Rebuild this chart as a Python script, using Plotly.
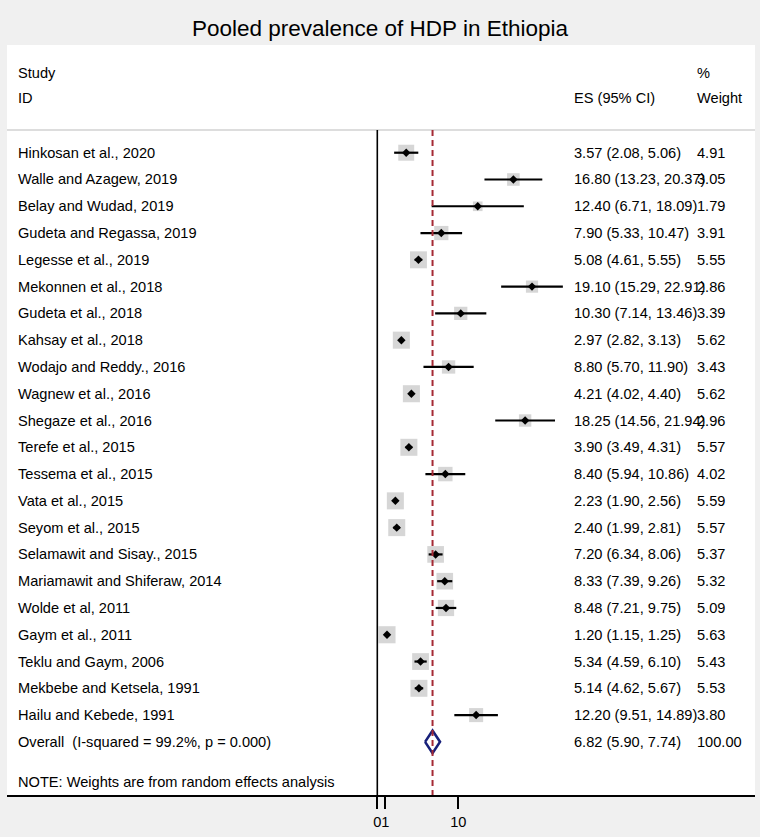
import plotly.graph_objects as go

studies = ["Hinkosan et al., 2020", "Walle and Azagew, 2019", "Belay and Wudad, 2019",
           "Gudeta and Regassa, 2019", "Legesse et al., 2019", "Mekonnen et al., 2018",
           "Gudeta et al., 2018", "Kahsay et al., 2018", "Wodajo and Reddy., 2016",
           "Wagnew et al., 2016", "Shegaze et al., 2016", "Terefe et al., 2015",
           "Tessema et al., 2015", "Vata et al., 2015", "Seyom et al., 2015",
           "Selamawit and Sisay., 2015", "Mariamawit and Shiferaw, 2014", "Wolde et al, 2011",
           "Gaym et al., 2011", "Teklu and Gaym, 2006", "Mekbebe and Ketsela, 1991",
           "Hailu and Kebede, 1991"]
es = [3.57, 16.80, 12.40, 7.90, 5.08, 19.10, 10.30, 2.97, 8.80, 4.21, 18.25, 3.90,
      8.40, 2.23, 2.40, 7.20, 8.33, 8.48, 1.20, 5.34, 5.14, 12.20]
ci_low = [2.08, 13.23, 6.71, 5.33, 4.61, 15.29, 7.14, 2.82, 5.70, 4.02, 14.56, 3.49,
          5.94, 1.90, 1.99, 6.34, 7.39, 7.21, 1.15, 4.59, 4.62, 9.51]
ci_high = [5.06, 20.37, 18.09, 10.47, 5.55, 22.91, 13.46, 3.13, 11.90, 4.40, 21.94, 4.31,
           10.86, 2.56, 2.81, 8.06, 9.26, 9.75, 1.25, 6.10, 5.67, 14.89]
weights = [4.91, 3.05, 1.79, 3.91, 5.55, 2.86, 3.39, 5.62, 3.43, 5.62, 2.96, 5.57,
           4.02, 5.59, 5.57, 5.37, 5.32, 5.09, 5.63, 5.43, 5.53, 3.80]

overall_label = "Overall  (I-squared = 99.2%, p = 0.000)"
overall_es, overall_lo, overall_hi, overall_w = 6.82, 5.90, 7.74, 100.00
note = "NOTE: Weights are from random effects analysis"
title = "Pooled prevalence of HDP in Ethiopia"
tick_vals = [0, 1, 10]
tick_text = ["0", "1", "10"]

FONT = "Liberation Sans, Arial, Helvetica, sans-serif"
FS = 14.6
rows = list(range(len(studies)))
overall_row = len(studies)
note_row = overall_row + 1.5

fig = go.Figure()

# weight boxes
fig.add_trace(go.Scatter(
    x=es, y=rows, mode="markers",
    marker=dict(symbol="square", color="#c4c4c4",
                size=[7.2 * w ** 0.5 for w in weights], line=dict(width=0)),
    hoverinfo="skip", showlegend=False))

# CI lines
cx, cy = [], []
for lo, hi, r in zip(ci_low, ci_high, rows):
    cx += [lo, hi, None]
    cy += [r, r, None]
fig.add_trace(go.Scatter(x=cx, y=cy, mode="lines",
                         line=dict(color="black", width=2.2),
                         hoverinfo="skip", showlegend=False))

# point estimates
fig.add_trace(go.Scatter(x=es, y=rows, mode="markers",
                         marker=dict(symbol="diamond", color="black", size=6.5),
                         hoverinfo="skip", showlegend=False))

# overall diamond
h = 0.42
fig.add_trace(go.Scatter(
    x=[overall_lo, overall_es, overall_hi, overall_es, overall_lo],
    y=[overall_row, overall_row - h, overall_row, overall_row + h, overall_row],
    mode="lines", line=dict(color="#17207a", width=2.6),
    fill="toself", fillcolor="white", hoverinfo="skip", showlegend=False))

# texts
ann = []
def txt(xp, y, s, yref="y"):
    ann.append(dict(x=xp, y=y, xref="paper", yref=yref, text=s, showarrow=False,
                    xanchor="left", yanchor="middle",
                    font=dict(family=FONT, size=FS, color="black")))

W = 748.0
def px(p):
    return (p - 7) / W

X_LAB, X_ES, X_W = 16, 572, 695
for name, e, lo, hi, w, r in zip(studies, es, ci_low, ci_high, weights, rows):
    txt(px(X_LAB), r, name)
    txt(px(X_ES), r, f"{e:.2f} ({lo:.2f}, {hi:.2f})")
    txt(px(X_W), r, f"{w:.2f}")
txt(px(X_LAB), overall_row, overall_label)
txt(px(X_ES), overall_row, f"{overall_es:.2f} ({overall_lo:.2f}, {overall_hi:.2f})")
txt(px(X_W), overall_row, f"{overall_w:.2f}")
txt(px(X_LAB), note_row, note)

txt(px(X_LAB), -2.98, "Study")
txt(px(X_LAB), -2.04, "ID")
txt(px(X_ES), -2.04, "ES (95% CI)")
txt(px(X_W), -2.98, "%")
txt(px(X_W), -2.04, "Weight")

y_top, y_bot = -4.022, 23.984
sep = -0.848
shapes = [
    dict(type="line", xref="paper", yref="y", x0=0, x1=1, y0=sep, y1=sep,
         line=dict(color="#d2d2d2", width=1.5)),
    dict(type="line", xref="x", yref="y", x0=0, x1=0, y0=sep, y1=y_bot,
         line=dict(color="black", width=1.6)),
    dict(type="line", xref="x", yref="y", x0=overall_es, x1=overall_es, y0=sep, y1=y_bot,
         line=dict(color="#a52a35", width=2, dash="6px,4px")),
]

x_left = (7 - 377.3) / 8.1
x_right = (755 - 377.3) / 8.1

fig.update_layout(
    width=760, height=837,
    margin=dict(l=7, r=5, t=45, b=42),
    paper_bgcolor="#f0f0f0", plot_bgcolor="white",
    title=dict(text=title, x=0.5, xanchor="center", y=1 - 28 / 837, yanchor="middle",
               font=dict(family=FONT, size=22.5, color="black")),
    annotations=ann, shapes=shapes,
    xaxis=dict(range=[x_left, x_right], showgrid=False, zeroline=False,
               showline=True, linecolor="black", linewidth=2,
               ticks="outside", ticklen=12, tickwidth=2, tickcolor="black",
               tickvals=tick_vals, ticktext=tick_text, tickangle=0,
               tickfont=dict(family=FONT, size=FS, color="black")),
    yaxis=dict(range=[y_bot, y_top], visible=False, showgrid=False, zeroline=False),
)

fig.write_html("out.html", config={"displayModeBar": False},
               post_script="document.body.style.margin='0';document.body.style.overflow='hidden';")
